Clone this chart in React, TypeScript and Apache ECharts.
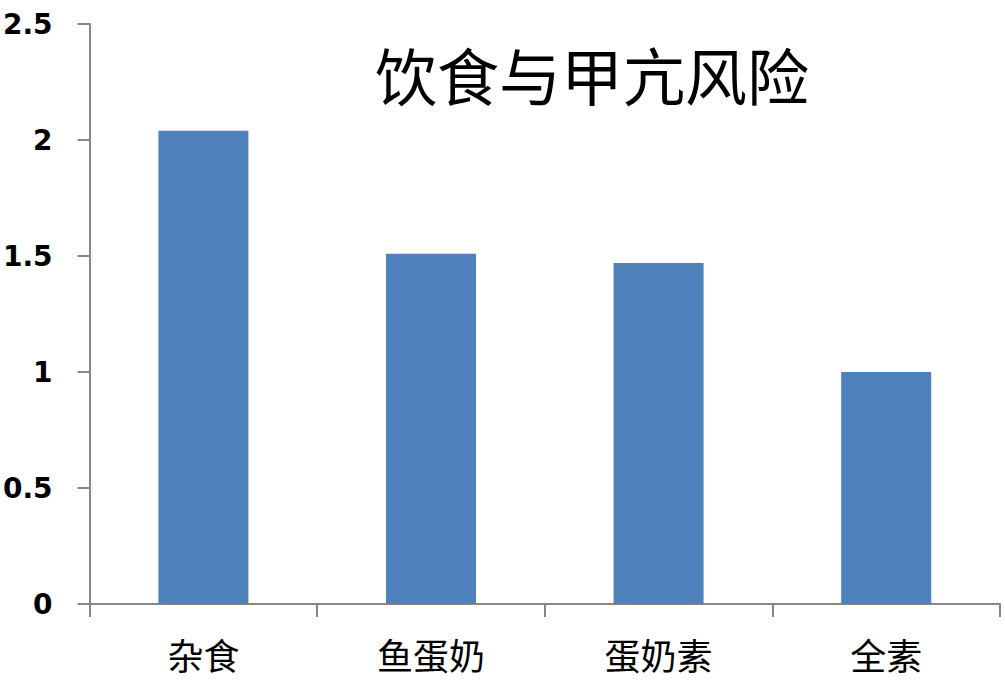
import React, { useEffect, useRef } from "react";
import * as echarts from "echarts";

const categories = ["杂食", "鱼蛋奶", "蛋奶素", "全素"];
const riskValues = [2.04, 1.51, 1.47, 1.0];
const chartTitle = "饮食与甲亢风险";

export default function App() {
  const ref = useRef<HTMLDivElement>(null);
  useEffect(() => {
    if (!ref.current) return;
    const chart = echarts.init(ref.current, null, { renderer: "svg" });
    chart.setOption({
      animation: false,
      backgroundColor: "#ffffff",
      title: {
        text: chartTitle,
        left: 370,
        top: 38,
        textStyle: {
          fontFamily: "Noto Sans CJK SC",
          fontSize: 62,
          fontWeight: "normal",
          color: "#000000",
        },
      },
      grid: { left: 87, right: 5, top: 24, bottom: 86, containLabel: false },
      xAxis: {
        type: "category",
        data: categories,
        axisLine: { show: true, lineStyle: { color: "#868686", width: 2 } },
        axisTick: { show: true, length: 13, lineStyle: { color: "#868686", width: 2 } },
        axisLabel: {
          margin: 32,
          fontFamily: "Noto Sans CJK SC",
          fontSize: 36,
          color: "#000000",
        },
      },
      yAxis: {
        type: "value",
        min: 0,
        max: 2.5,
        interval: 0.5,
        splitLine: { show: false },
        axisLine: { show: true, lineStyle: { color: "#868686", width: 2 } },
        axisTick: { show: true, length: 12, lineStyle: { color: "#868686", width: 2 } },
        axisLabel: {
          margin: 37,
          fontFamily: "DejaVu Sans",
          fontWeight: "bold",
          fontSize: 28,
          color: "#000000",
        },
      },
      series: [
        {
          type: "bar",
          data: riskValues,
          barWidth: 90,
          itemStyle: { color: "#4F81BD" },
        },
      ],
    });
    return () => chart.dispose();
  }, []);
  return (
    <div
      ref={ref}
      style={{ position: "fixed", left: 0, top: 0, width: 1005, height: 690 }}
    />
  );
}
